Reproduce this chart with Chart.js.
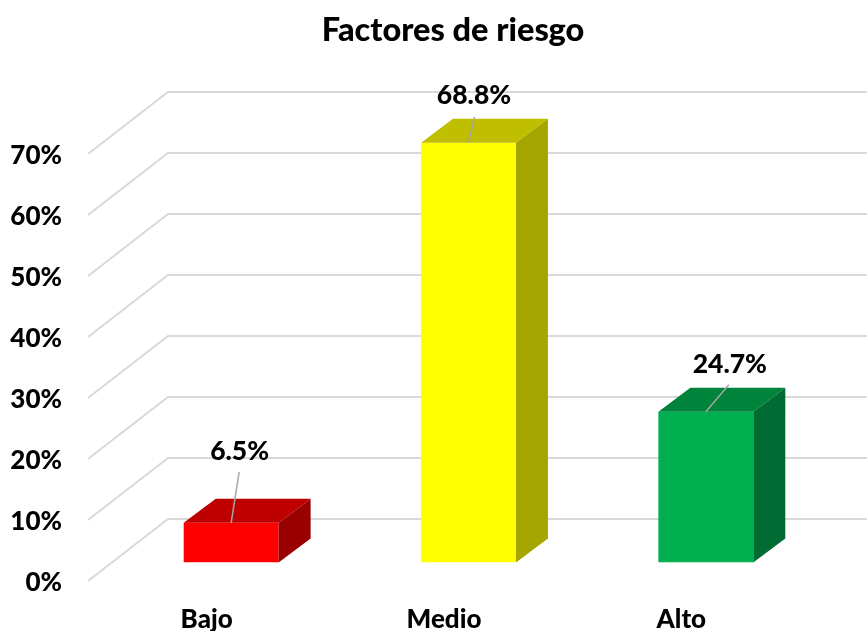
<!DOCTYPE html>
<html><head><meta charset="utf-8">
<style>html,body{margin:0;padding:0;background:#fff}#w{width:867px;height:631px;position:relative}</style>
<script src="https://cdn.jsdelivr.net/npm/chart.js@4"></script>
</head><body><div id="w"><canvas id="c"></canvas></div>
<script>
const categories = ["Bajo", "Medio", "Alto"];
const values = [6.5, 68.8, 24.7];
const valueLabels = ["6.5%", "68.8%", "24.7%"];
const frontColors = ["#ff0000", "#ffff00", "#00b050"];
const topColors = ["#bf0000", "#bfbf00", "#00843c"];
const sideColors = ["#990000", "#a6a600", "#006b33"];
const titleText = "Factores de riesgo";

const FONT = "Lato, Carlito, sans-serif";
const WALL = {dx: 80, dy: -62};      // floor/wall depth
const BAR_SHIFT = {dx: 24.5, dy: -18.5}; // bar front plane inside the depth
const BAR_DEPTH = {dx: 32, dy: -24};
// label centre and leader end, relative to bar top-centre
const LABEL_POS = [
  {lx: 8.5, ly: -71, ex: 8, ey: -51},
  {lx: 5.5, ly: -47, ex: 6, ey: -26},
  {lx: 24, ly: -47, ex: 23, ey: -27}
];

const scene = {
  id: "scene",
  afterLayout(chart) {
    if (chart.titleBlock) { chart.titleBlock.left += 53; chart.titleBlock.right += 53; }
  },
  beforeDatasetsDraw(chart) {
    const {ctx, scales: {y}, width} = chart;
    ctx.save();
    ctx.strokeStyle = "#d9d9d9";
    ctx.lineWidth = 2;
    y.ticks.forEach(t => {
      const py = y.getPixelForValue(t.value);
      const x0 = y.right, bx = x0 + WALL.dx, by = py + WALL.dy;
      ctx.beginPath();
      ctx.moveTo(x0, py);
      ctx.lineTo(bx, by);
      ctx.lineTo(width, by);
      ctx.stroke();
    });
    ctx.restore();
    ctx.save();
    ctx.translate(BAR_SHIFT.dx, BAR_SHIFT.dy);
  },
  afterDatasetsDraw(chart) {
    const {ctx} = chart;
    const bars = chart.getDatasetMeta(0).data;
    bars.forEach((b, i) => {
      const l = b.x - b.width / 2, r = b.x + b.width / 2, t = b.y, bt = b.base;
      const d = BAR_DEPTH;
      ctx.fillStyle = topColors[i];
      ctx.beginPath();
      ctx.moveTo(l, t); ctx.lineTo(l + d.dx, t + d.dy); ctx.lineTo(r + d.dx, t + d.dy); ctx.lineTo(r, t);
      ctx.closePath(); ctx.fill();
      ctx.fillStyle = sideColors[i];
      ctx.beginPath();
      ctx.moveTo(r, t); ctx.lineTo(r + d.dx, t + d.dy); ctx.lineTo(r + d.dx, bt + d.dy); ctx.lineTo(r, bt);
      ctx.closePath(); ctx.fill();
    });
    bars.forEach((b, i) => {
      const p = LABEL_POS[i];
      ctx.strokeStyle = "#a6a6a6";
      ctx.lineWidth = 1.5;
      ctx.beginPath();
      ctx.moveTo(b.x, b.y);
      ctx.lineTo(b.x + p.ex, b.y + p.ey);
      ctx.stroke();
      ctx.fillStyle = "#000";
      ctx.font = "900 26.5px " + FONT;
      ctx.textAlign = "center";
      ctx.textBaseline = "middle";
      ctx.fillText(valueLabels[i], b.x + p.lx, b.y + p.ly);
    });
    ctx.restore();
  }
};

new Chart(document.getElementById("c"), {
  type: "bar",
  data: {
    labels: categories,
    datasets: [{
      data: values,
      backgroundColor: frontColors,
      borderWidth: 0,
      barPercentage: 0.4,
      categoryPercentage: 1
    }]
  },
  options: {
    responsive: true,
    maintainAspectRatio: false,
    animation: false,
    layout: {padding: {right: 67}},
    plugins: {
      legend: {display: false},
      tooltip: {enabled: false},
      title: {
        display: true,
        text: titleText,
        color: "#000",
        font: {family: FONT, size: 32.5, weight: "900"},
        padding: {top: 11, bottom: 104}
      }
    },
    scales: {
      x: {
        grid: {display: false, drawTicks: false},
        border: {display: false},
        ticks: {color: "#000", font: {family: FONT, size: 26, weight: "900"}, padding: 23, maxRotation: 0},
        afterFit(s) { s.height = 50; }
      },
      y: {
        min: 0, max: 70,
        grid: {display: false, drawTicks: false},
        border: {display: false},
        ticks: {stepSize: 10, color: "#000", padding: 26, labelOffset: 2,
          font: {family: FONT, size: 26, weight: "900"},
          callback: v => v + "%"},
        afterFit(s) { s.width = 88; }
      }
    }
  },
  plugins: [scene]
});
</script></body></html>
